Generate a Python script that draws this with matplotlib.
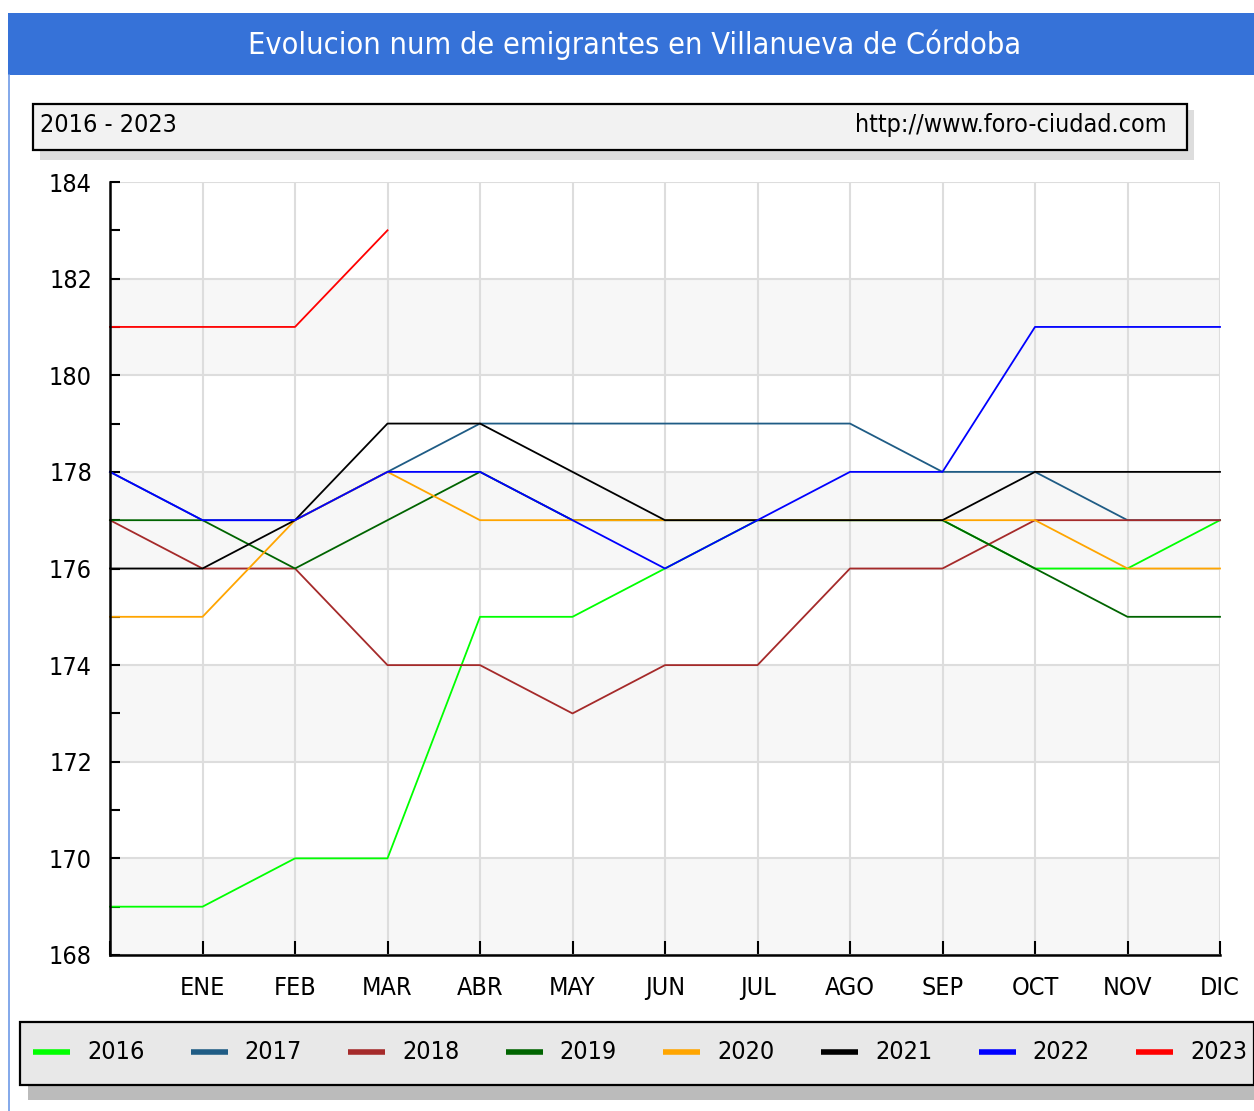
import matplotlib
matplotlib.use("Agg")
import matplotlib.pyplot as plt
from matplotlib.patches import Rectangle
from matplotlib.lines import Line2D
from matplotlib.ticker import MultipleLocator
from matplotlib import font_manager

W, H = 1254, 1111

months = ["", "ENE", "FEB", "MAR", "ABR", "MAY", "JUN", "JUL", "AGO", "SEP", "OCT", "NOV", "DIC"]
years = ["2016", "2017", "2018", "2019", "2020", "2021", "2022", "2023"]
colors = ["#00FF00", "#1F5C85", "#A52A2A", "#006400", "#FFA500", "#000000", "#0000FF", "#FF0000"]

s2016 = [169, 169, 170, 170, 175, 175, 176, 177, 177, 177, 176, 176, 177]
s2017 = [178, 177, 177, 178, 179, 179, 179, 179, 179, 178, 178, 177, 177]
s2018 = [177, 176, 176, 174, 174, 173, 174, 174, 176, 176, 177, 177, 177]
s2019 = [177, 177, 176, 177, 178, 177, 177, 177, 177, 177, 176, 175, 175]
s2020 = [175, 175, 177, 178, 177, 177, 177, 177, 177, 177, 177, 176, 176]
s2021 = [176, 176, 177, 179, 179, 178, 177, 177, 177, 177, 178, 178, 178]
s2022 = [178, 177, 177, 178, 178, 177, 176, 177, 178, 178, 181, 181, 181]
s2023 = [181, 181, 181, 183]
series = [s2016, s2017, s2018, s2019, s2020, s2021, s2022, s2023]

title = "Evolucion num de emigrantes en Villanueva de Córdoba"
subtitle_left = "2016 - 2023"
subtitle_right = "http://www.foro-ciudad.com"

# pick a narrow font if one is installed
fpath = None
for f in font_manager.fontManager.ttflist:
    low = f.fname.lower()
    if "liberationsansnarrow-regular" in low:
        fpath = f.fname
        break
if fpath is None:
    for f in font_manager.fontManager.ttflist:
        low = f.fname.lower()
        if "dejavusanscondensed.ttf" in low:
            fpath = f.fname
            break


def FP(size):
    if fpath:
        return font_manager.FontProperties(fname=fpath, size=size)
    return font_manager.FontProperties(family="DejaVu Sans", size=size * 0.85)


def fx(px):
    return px / W


def fy(py):
    return 1 - py / H


fig = plt.figure(figsize=(W / 100, H / 100), dpi=100)
fig.patch.set_facecolor("white")

# title bar
fig.patches.append(Rectangle((fx(8), fy(75)), fx(1254) - fx(8), fy(13) - fy(75),
                             transform=fig.transFigure, facecolor="#3672D8", edgecolor="none", zorder=0))
fig.lines.append(Line2D([fx(8.5), fx(8.5)], [fy(75), fy(1111)], transform=fig.transFigure,
                        color="#6E9AE6", lw=1.2))
fig.text(fx(635), fy(45), title, color="white", fontproperties=FP(22),
         ha="center", va="center")

# subtitle box with shadow
fig.patches.append(Rectangle((fx(40), fy(160)), fx(1194) - fx(40), fy(110) - fy(160),
                             transform=fig.transFigure, facecolor="#DDDDDD", edgecolor="none", zorder=0))
fig.patches.append(Rectangle((fx(33), fy(150)), fx(1187) - fx(33), fy(104) - fy(150),
                             transform=fig.transFigure, facecolor="#F2F2F2", edgecolor="black",
                             lw=1.6, zorder=1))
fig.text(fx(40), fy(125), subtitle_left, fontproperties=FP(18), ha="left", va="center", zorder=2)
fig.text(fx(1167), fy(125), subtitle_right, fontproperties=FP(18), ha="right", va="center", zorder=2)

# main axes
ax = fig.add_axes([fx(110), fy(955), fx(1220) - fx(110), fy(182) - fy(955)])
ax.set_xlim(0, 12)
ax.set_ylim(168, 184)
for b in range(168, 184, 2):
    if (b - 168) // 2 % 2 == 0:
        ax.axhspan(b, b + 2, color="#F7F7F7", zorder=0, lw=0)

ax.set_xticks(range(13))
ax.set_xticklabels(months)
ax.yaxis.set_major_locator(MultipleLocator(2))
ax.yaxis.set_minor_locator(MultipleLocator(1))
ax.grid(True, which="major", color="#DDDDDD", lw=1.5, zorder=1)
ax.set_axisbelow(True)

for sp in ["top", "right"]:
    ax.spines[sp].set_visible(False)
for sp in ["left", "bottom"]:
    ax.spines[sp].set_linewidth(1.8)
    ax.spines[sp].set_zorder(5)

ax.tick_params(axis="y", which="both", direction="in", length=7, width=1.5, pad=13)
ax.tick_params(axis="x", which="major", direction="in", length=10, width=1.5, pad=15)
tick_fp = FP(18)
for lab in ax.get_xticklabels() + ax.get_yticklabels():
    lab.set_fontproperties(tick_fp)

for yr, vals, c in zip(years, series, colors):
    ax.plot(range(len(vals)), vals, color=c, lw=1.3, label=yr, zorder=3, clip_on=False)

# legend box with shadow
fig.patches.append(Rectangle((fx(28), fy(1100)), fx(1254) - fx(28), fy(1035) - fy(1100),
                             transform=fig.transFigure, facecolor="#BBBBBB", edgecolor="none", zorder=0))
fig.patches.append(Rectangle((fx(20), fy(1085)), fx(1254) - fx(20), fy(1022) - fy(1085),
                             transform=fig.transFigure, facecolor="#E8E8E8", edgecolor="black",
                             lw=1.6, zorder=1))
step = 157.6
for i, (yr, c) in enumerate(zip(years, colors)):
    x0 = 33 + step * i
    fig.lines.append(Line2D([fx(x0), fx(x0 + 37)], [fy(1052), fy(1052)], transform=fig.transFigure,
                            color=c, lw=4, solid_capstyle="butt", zorder=3))
    fig.text(fx(x0 + 54), fy(1052), yr, fontproperties=FP(18), ha="left", va="center", zorder=3)

fig.savefig("out.png", dpi=100)
